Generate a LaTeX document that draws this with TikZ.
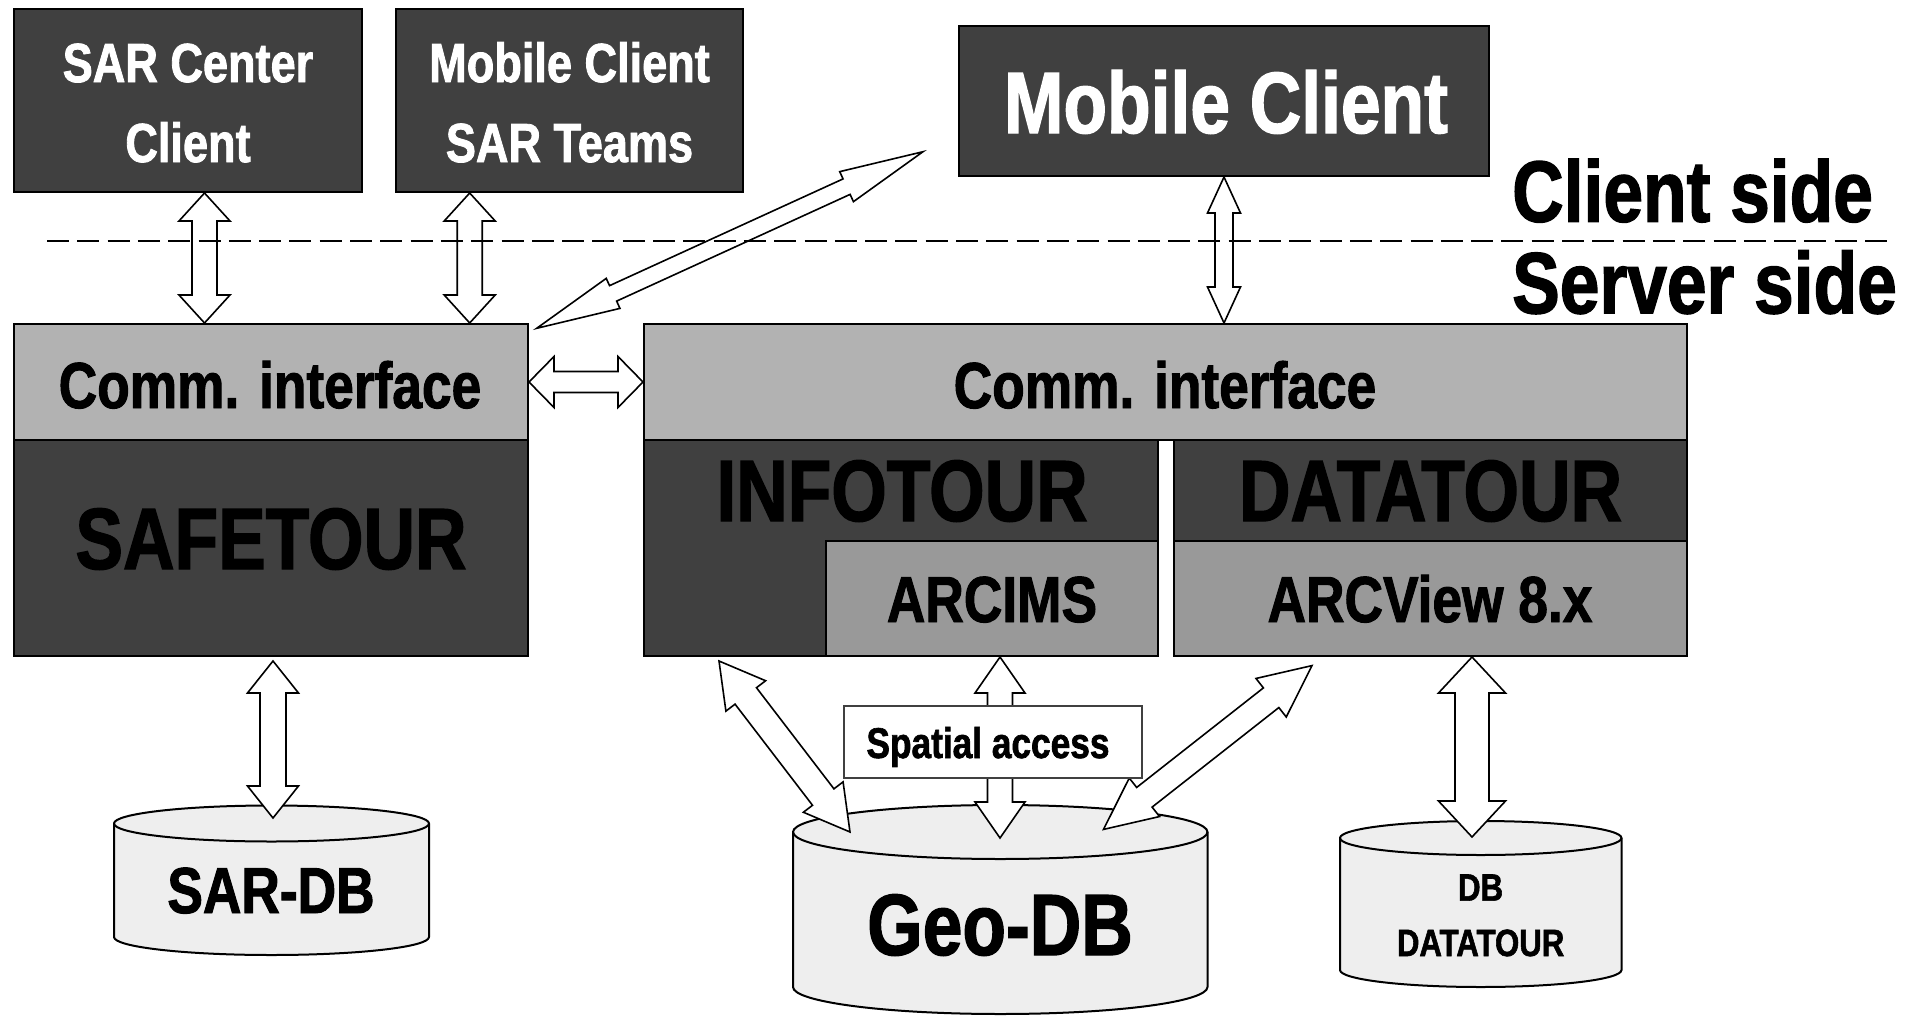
\documentclass[tikz,border=0pt]{standalone}
\usepackage{fontspec}
\setmainfont[FakeStretch=0.82, BoldFeatures={FakeBold=1.5}]{Liberation Sans}
\usetikzlibrary{calc}

\definecolor{darkfill}{HTML}{404040}
\definecolor{commfill}{HTML}{B2B2B2}
\definecolor{midfill}{HTML}{999999}
\definecolor{cylfill}{HTML}{EEEEEE}

\tikzset{
  box/.style={draw=black, line width=2pt, inner sep=0pt, rectangle},
  darkbox/.style={box, fill=darkfill},
  commbox/.style={box, fill=commfill},
  midbox/.style={box, fill=midfill},
  lbl/.style={anchor=base, inner sep=0pt, font=\bfseries\fontsize{#1}{#1}\selectfont},
  blockarrow/.style={draw=black, fill=white, line width=1.6pt, line join=miter},
  cyl/.style={draw=black, fill=cylfill, line width=2pt},
  separator/.style={line width=2.6pt, dash pattern=on 22pt off 8.3pt},
}

% hollow double-headed block arrow between two named points
% #1 start, #2 end, #3 head length, #4 head width, #5 shaft width
\newcommand\blkarrow[5]{%
  \path let \p1=(#1), \p2=(#2) in
    \pgfextra{%
      \pgfmathsetmacro\blkangtmp{atan2((\y2)-(\y1),(\x2)-(\x1))}%
      \pgfmathsetmacro\blklentmp{veclen((\x2)-(\x1),(\y2)-(\y1))}%
      \xdef\blkang{\blkangtmp}\xdef\blklen{\blklentmp}%
      \xdef\blkx{\x1}\xdef\blky{\y1}};
  \begin{scope}[shift={(\blkx,\blky)}, rotate=\blkang, x=1pt, y=1pt]
    \draw[blockarrow] (0,0) -- (#3,{#4/2}) -- (#3,{#5/2})
      -- ({\blklen-#3},{#5/2}) -- ({\blklen-#3},{#4/2}) -- (\blklen,0)
      -- ({\blklen-#3},{-#4/2}) -- ({\blklen-#3},{-#5/2})
      -- (#3,{-#5/2}) -- (#3,{-#4/2}) -- cycle;
  \end{scope}}

% database drum: #1 left x, #2 right x, #3 top centre y, #4 bottom centre y, #5 y radius
\newcommand\dbdrum[5]{%
  \pgfmathsetmacro\drumrx{(#2-#1)/2}%
  \path[cyl] (#1,#3) -- (#1,#4)
    arc[start angle=180, end angle=360, x radius=\drumrx pt, y radius=#5pt]
    -- (#2,#3)
    arc[start angle=0, end angle=180, x radius=\drumrx pt, y radius=#5pt] -- cycle;
  \draw[cyl, fill=none] (#1,#3)
    arc[start angle=180, end angle=360, x radius=\drumrx pt, y radius=#5pt];}

\begin{document}
\begin{tikzpicture}[x=1pt, y=-1pt]
\useasboundingbox (0,0) rectangle (1923,1017);

% client side boxes
\node[darkbox, minimum width=348pt, minimum height=183pt] (sarc) at (188,100.5) {};
\node[darkbox, minimum width=347pt, minimum height=183pt] (mobsar) at (569.5,100.5) {};
\node[darkbox, minimum width=530pt, minimum height=150pt] (mob) at (1224,101) {};

% SAFETOUR server
\node[commbox, minimum width=514pt, minimum height=116pt] (commL) at (271,382) {};
\node[darkbox, minimum width=514pt, minimum height=216pt] (safe) at (271,548) {};

% INFOTOUR / DATATOUR server
\node[commbox, minimum width=1043pt, minimum height=116pt] (commR) at (1165.5,382) {};
\node[darkbox, minimum width=514pt, minimum height=216pt] (info) at (901,548) {};
\node[midbox, minimum width=332pt, minimum height=115pt] (arcims) at (992,598.5) {};
\node[darkbox, minimum width=513pt, minimum height=216pt] (data) at (1430.5,548) {};
\node[midbox, minimum width=513pt, minimum height=115pt] (arcview) at (1430.5,598.5) {};

% databases
\dbdrum{114}{429}{823.5}{937}{18}
\dbdrum{793}{1207.5}{832}{987}{27}
\dbdrum{1340}{1621.5}{838}{970}{17}

% arrow end points
\coordinate (a1top) at ([xshift=16.5pt]sarc.south);
\coordinate (a1bot) at (a1top |- commL.north);
\coordinate (a2top) at ([xshift=-99.8pt]mobsar.south);
\coordinate (a2bot) at (a2top |- commL.north);
\coordinate (a3low) at (536.7,328.3);
\coordinate (a3high) at (923,151.7);
\coordinate (a4bot) at (mob.south |- commR.north);
\coordinate (a6top) at (273,661);
\coordinate (a6bot) at (273,818);
\coordinate (a7top) at (719,661);
\coordinate (a7bot) at (850,832);
\coordinate (a8top) at (1000,657);
\coordinate (a8bot) at (1000,838);
\coordinate (a9low) at (1103.5,829.4);
\coordinate (a9high) at (1312,665.6);
\coordinate (a10top) at (1472,657);
\coordinate (a10bot) at (1472,837);

% connectors
\blkarrow{a1top}{a1bot}{28}{51}{25}
\blkarrow{a2top}{a2bot}{28}{51}{25}
\blkarrow{a3low}{a3high}{84}{33}{17}
\blkarrow{mob.south}{a4bot}{36}{33}{18}
\blkarrow{commL.east}{commR.west}{25}{51}{21}
\blkarrow{a6top}{a6bot}{32}{51}{26}
\blkarrow{a7top}{a7bot}{44}{50}{27}
\blkarrow{a8top}{a8bot}{36}{50}{25}
\blkarrow{a9low}{a9high}{52}{49}{25}
\blkarrow{a10top}{a10bot}{36}{67}{34}

\node[box, draw=black!75, line width=1.2pt, fill=white, minimum width=298pt, minimum height=72pt] (spatial) at (993,742) {};

% labels
\node[lbl=55, white] (t1) at (188,82) {SAR Center};
\node[lbl=55, white] (t2) at (188,162) {Client};
\node[lbl=55, white] (t3) at (569.5,82) {Mobile Client};
\node[lbl=55, white] (t4) at (569.5,162) {SAR Teams};
\node[lbl=87, white] (t5) at (1226,133) {Mobile Client};
\node[lbl=65] (t6) at (270,408) {Comm. interface};
\node[lbl=65] (t7) at (1165,408) {Comm. interface};
\node[lbl=87] (t8) at (271,569) {SAFETOUR};
\node[lbl=87] (t9) at (902,521) {INFOTOUR};
\node[lbl=87] (t10) at (1430.5,521) {DATATOUR};
\node[lbl=65] (t11) at (992,622) {ARCIMS};
\node[lbl=65] (t12) at (1430,622) {ARCView 8.x};
\node[lbl=43] (t13) at (988,758) {Spatial access};
\node[lbl=65] (sardb) at (271,913) {SAR-DB};
\node[lbl=87] (geodb) at (1000,955) {Geo-DB};
\node[lbl=38] (dbdata1) at (1480.6,900.6) {DB};
\node[lbl=38] (dbdata2) at (1480.6,956) {DATATOUR};

% client/server separation
\coordinate (sepL) at (47,241);
\coordinate (sepR) at (1887,241);
\draw[separator] (sepL) -- (sepR);
\node[lbl=87, anchor=base west] (cside) at (1512,221.7) {Client side};
\node[lbl=87, anchor=base west] (sside) at (1512,313.3) {Server side};
\end{tikzpicture}
\end{document}
